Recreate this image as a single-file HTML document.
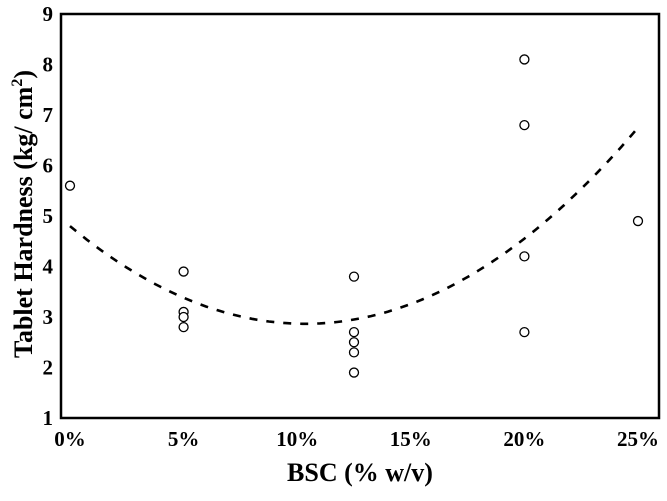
<!DOCTYPE html>
<html><head><meta charset="utf-8"><style>
html,body{margin:0;padding:0;background:#fff;}
svg text{font-family:"Liberation Serif",serif;font-weight:bold;fill:#000;}
</style></head><body>
<svg id="chart" width="667" height="496" viewBox="0 0 667 496">
<g id="ticks"></g>
<path id="trend" fill="none" stroke="#000" stroke-width="2.6" stroke-dasharray="8,9"></path>
<g id="points"></g>
<rect x="61" y="14" width="598" height="404" fill="none" stroke="#000" stroke-width="2.5"/>
<text x="360" y="481" font-size="26" text-anchor="middle">BSC (% w/v)</text>
<text transform="translate(32,214) rotate(-90)" font-size="26" text-anchor="middle">Tablet Hardness (kg/ cm<tspan dy="-10" font-size="16">2</tspan><tspan dy="10">)</tspan></text>
</svg>
<script>
const xTicks=[0,5,10,15,20,25];
const xTickLabels=["0%","5%","10%","15%","20%","25%"];
const yTicks=[1,2,3,4,5,6,7,8,9];
const pointX=[0,5,5,5,5,12.5,12.5,12.5,12.5,12.5,20,20,20,20,25];
const pointY=[5.6,3.9,3.1,3.0,2.8,3.8,2.7,2.5,2.3,1.9,8.1,6.8,4.2,2.7,4.9];
const trendCoef=[4.8,-0.374,0.01808];
const sx=v=>70+v*22.72;
const sy=v=>418-(v-1)*50.5;
const NS="http://www.w3.org/2000/svg";
const tg=document.getElementById('ticks');
xTicks.forEach((t,i)=>{
  const e=document.createElementNS(NS,'text');
  
  
  e.setAttribute('x',sx(t));e.setAttribute('y',446);
  e.setAttribute('font-size','21');e.setAttribute('text-anchor','middle');
  e.textContent=xTickLabels[i];tg.appendChild(e);
});
yTicks.forEach(t=>{
  const e=document.createElementNS(NS,'text');
  
  
  e.setAttribute('x',53);e.setAttribute('y',sy(t)+7);
  e.setAttribute('font-size','21');e.setAttribute('text-anchor','end');
  e.textContent=t;tg.appendChild(e);
});
let d="";
for(let i=0;i<=100;i++){const x=i*0.25;const y=trendCoef[0]+trendCoef[1]*x+trendCoef[2]*x*x;d+=(i?"L":"M")+sx(x).toFixed(1)+","+sy(y).toFixed(1);}
document.getElementById('trend').setAttribute('d',d);
const pg=document.getElementById('points');
pointX.forEach((x,i)=>{
  const c=document.createElementNS(NS,'circle');
  
  
  c.setAttribute('cx',sx(x));c.setAttribute('cy',sy(pointY[i]));c.setAttribute('r',4.5);
  c.setAttribute('fill','#fff');c.setAttribute('stroke','#000');c.setAttribute('stroke-width','1.3');
  pg.appendChild(c);
});
</script>
</body></html>
